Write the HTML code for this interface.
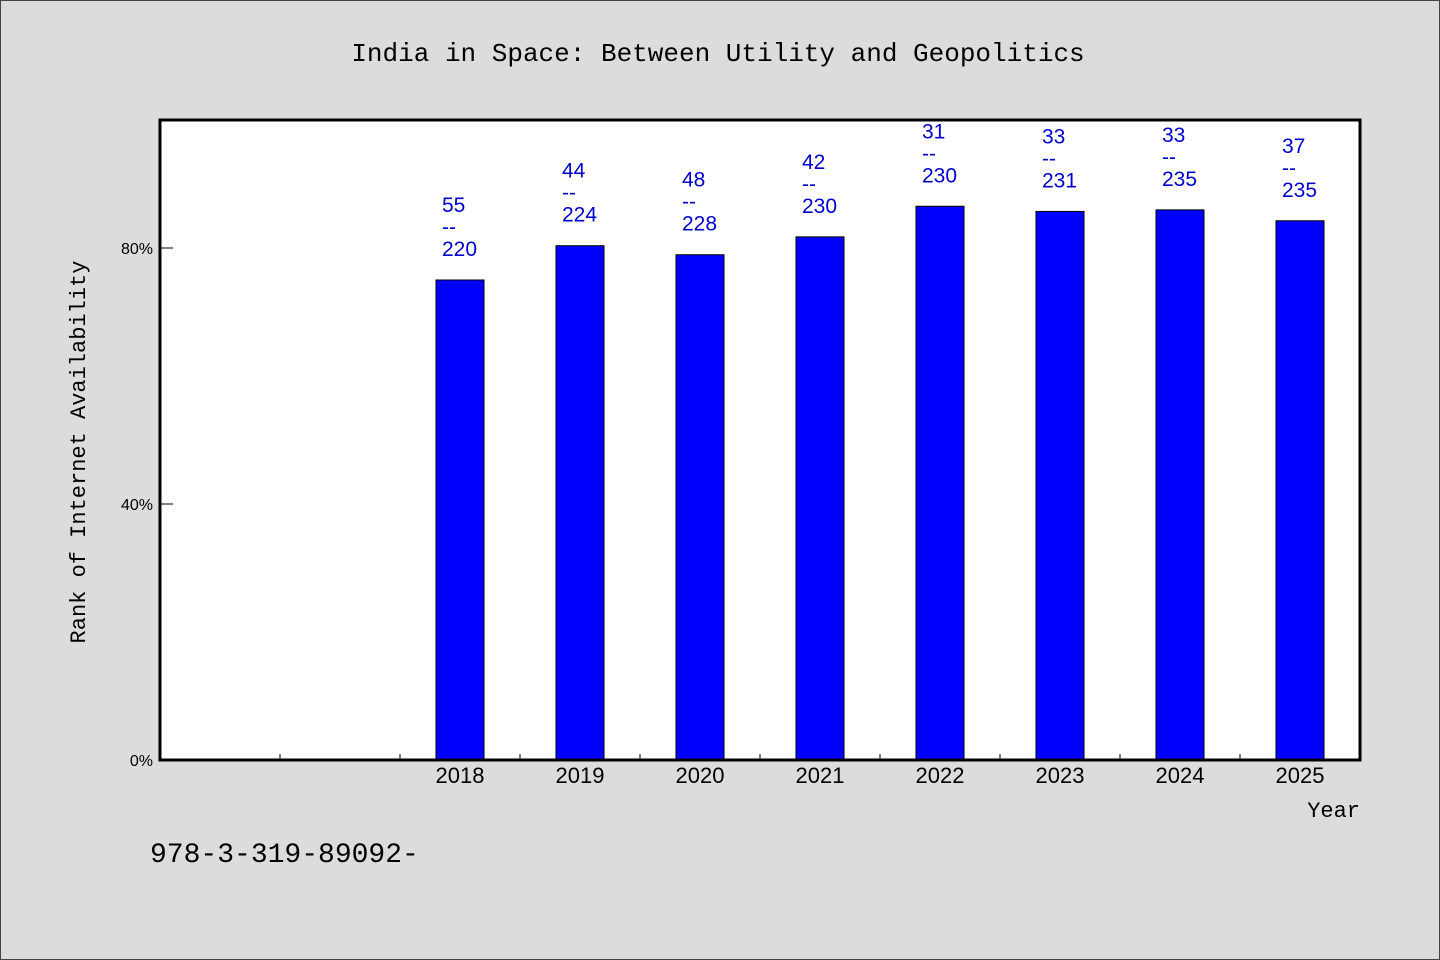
<!DOCTYPE html>
<html><head><meta charset="utf-8"><style>
body{margin:0;background:#dcdcdc;}
svg{display:block;}
</style></head><body>
<svg width="1440" height="960" viewBox="0 0 1440 960" xmlns="http://www.w3.org/2000/svg">
<rect x="0.5" y="0.5" width="1439" height="959" fill="#dcdcdc" stroke="#444"/>
<text x="718" y="61" text-anchor="middle" font-family="'Liberation Mono','WenQuanYi Zen Hei Mono',monospace" font-size="26" fill="#000">India in Space: Between Utility and Geopolitics</text>
<rect x="160" y="120" width="1200" height="640" fill="#fff"/>
<g id="bars"></g>
<g id="axes"></g>
<rect x="160" y="120" width="1200" height="640" fill="none" stroke="#000" stroke-width="3"/>
<text transform="translate(85,452) rotate(-90)" text-anchor="middle" font-family="'Liberation Mono',monospace" font-size="22" fill="#000">Rank of Internet Availability</text>
<text x="1360" y="817" text-anchor="end" font-family="'Liberation Mono',monospace" font-size="22" fill="#000">Year</text>
<text x="150" y="862" font-family="'Liberation Mono',monospace" font-size="28" fill="#000">978-3-319-89092-</text>
</svg>
<script>
const years = ["2018","2019","2020","2021","2022","2023","2024","2025"];
const ranks = [55,44,48,42,31,33,33,37];
const totals = [220,224,228,230,230,231,235,235];
const yTicks = [0,40,80];
const yTickLabels = ["0%","40%","80%"];
const NS="http://www.w3.org/2000/svg";
const x0=160,plotW=1200,y0=760,plotH=640,slots=10,offset=2;
const slotW=plotW/slots;
function xScale(i){return x0+(i+offset+0.5)*slotW;}
function yScale(p){return y0-p*6.4;}
const bars=document.getElementById('bars'), axes=document.getElementById('axes');
function mk(tag,attrs,parent){const e=document.createElementNS(NS,tag);for(const k in attrs)e.setAttribute(k,attrs[k]);parent.appendChild(e);return e;}
years.forEach((yr,i)=>{
  const v=(1-ranks[i]/totals[i])*100;
  const cx=xScale(i), top=yScale(v);
  const r=mk('rect',{x:cx-24,y:top,width:48,height:y0-top,fill:'#0000ff',stroke:'#000','stroke-width':1},bars);
  
  
  const lines=[String(ranks[i]),'--',String(totals[i])];
  lines.forEach((s,j)=>{
    const t=mk('text',{x:cx-18,y:top-68+j*22,'font-family':"'Liberation Sans',sans-serif",'font-size':21,fill:'#0000cc'},bars);
    t.textContent=s;
    
    
  });
  const xl=mk('text',{x:cx,y:783,'text-anchor':'middle','font-family':"'Liberation Sans',sans-serif",'font-size':22,fill:'#000'},axes);
  xl.textContent=yr;
  
  
});
for(let k=1;k<slots;k++){
  const x=x0+k*slotW;
  const tk=mk('line',{x1:x,x2:x,y1:y0,y2:y0-6,stroke:'#000','stroke-width':1},axes);
  
  
}
yTicks.forEach((v,i)=>{
  const y=yScale(v);
  const tk=mk('line',{x1:x0,x2:x0+13,y1:y,y2:y,stroke:'#000','stroke-width':1},axes);
  
  
  const t=mk('text',{x:153,y:y+6,'text-anchor':'end','font-family':"'Liberation Sans',sans-serif",'font-size':16,fill:'#000'},axes);
  t.textContent=yTickLabels[i];
  
  
});
</script>
</body></html>
